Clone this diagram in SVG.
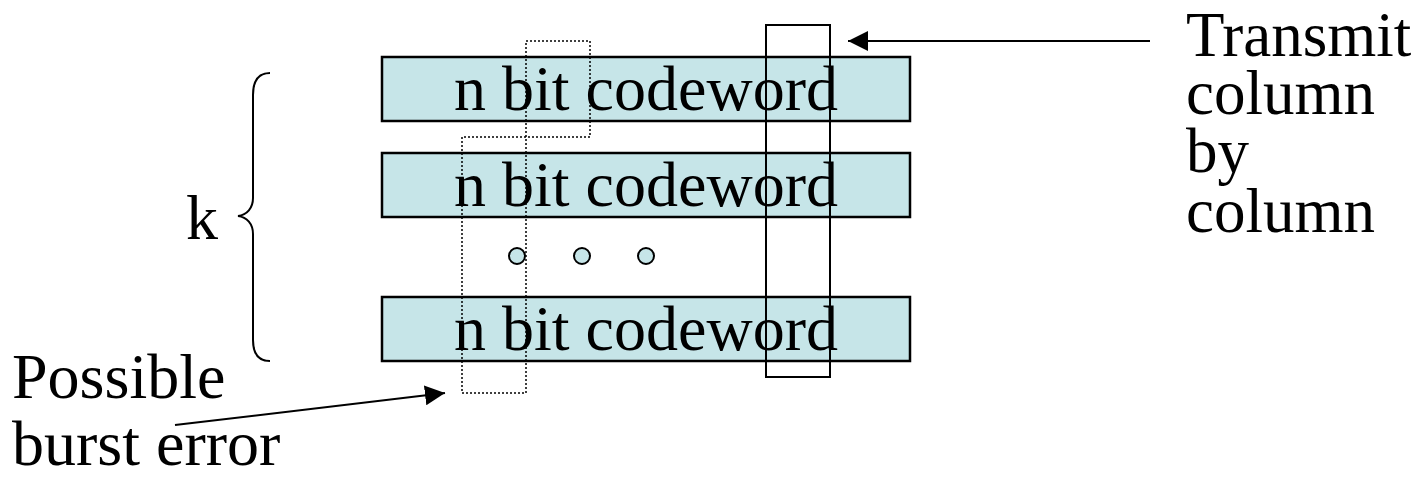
<svg xmlns="http://www.w3.org/2000/svg" width="1425" height="480" viewBox="0 0 1425 480">
  <style>
    .bar { fill: #c6e5e8; stroke: #000; stroke-width: 2.5; }
    .lbl { font-family: "Liberation Serif", "Times New Roman", serif; font-size: 64px; fill: #000; }
    .dot { fill: #c6e5e8; stroke: #000; stroke-width: 2; }
    .dotted { fill: none; stroke: #000; stroke-width: 1.5; stroke-dasharray: 2 2; }
    .col { fill: none; stroke: #000; stroke-width: 2; }
    .conn { fill: none; stroke: #000; stroke-width: 2; }
  </style>
  <defs>
    <marker id="arrow" viewBox="0 0 20 20" refX="20" refY="10" markerWidth="20" markerHeight="20" markerUnits="userSpaceOnUse" orient="auto">
      <path d="M0,0 L20,10 L0,20 z" fill="#000"/>
    </marker>
  </defs>

  <!-- codeword rows -->
  <g id="row1">
    <rect class="bar" x="382" y="57" width="528" height="64"/>
    <text class="lbl" x="646" y="110" text-anchor="middle">n bit codeword</text>
  </g>
  <g id="row2">
    <rect class="bar" x="382" y="153" width="528" height="64"/>
    <text class="lbl" x="646" y="206" text-anchor="middle">n bit codeword</text>
  </g>
  <g id="row3">
    <rect class="bar" x="382" y="297" width="528" height="64"/>
    <text class="lbl" x="646" y="350" text-anchor="middle">n bit codeword</text>
  </g>

  <!-- ellipsis dots -->
  <g id="ellipsis">
    <circle class="dot" cx="517" cy="256" r="8"/>
    <circle class="dot" cx="582" cy="256" r="8"/>
    <circle class="dot" cx="646" cy="256" r="8"/>
  </g>

  <!-- transmitted column -->
  <g id="column">
    <rect class="col" x="766" y="25" width="64" height="352"/>
  </g>

  <!-- burst error region -->
  <g id="burst">
    <path class="dotted" d="M526,137 L526,41 L590,41 L590,137 L462,137 L462,393 L526,393 L526,137"/>
  </g>

  <!-- k brace -->
  <g id="brace">
    <path class="conn" d="M270,73 C258,73 253,82 253,95 L253,198 C253,208 247,215 238,216 C247,217 253,224 253,234 L253,340 C253,353 258,361 270,361"/>
    <text class="lbl" x="186" y="239">k</text>
  </g>

  <!-- labels -->
  <g id="transmit-label">
    <text class="lbl" style="font-size:63px"><tspan x="1186" y="56">Transmit</tspan><tspan x="1186" y="114">column</tspan><tspan x="1186" y="172">by</tspan><tspan x="1186" y="232">column</tspan></text>
  </g>
  <g id="burst-label">
    <text class="lbl"><tspan x="12" y="398">Possible</tspan><tspan x="12" y="465">burst error</tspan></text>
  </g>

  <!-- connectors -->
  <g id="connectors">
    <line class="conn" x1="1150" y1="41" x2="848" y2="41" marker-end="url(#arrow)"/>
    <line class="conn" x1="175" y1="425" x2="445" y2="393" marker-end="url(#arrow)"/>
  </g>
</svg>
